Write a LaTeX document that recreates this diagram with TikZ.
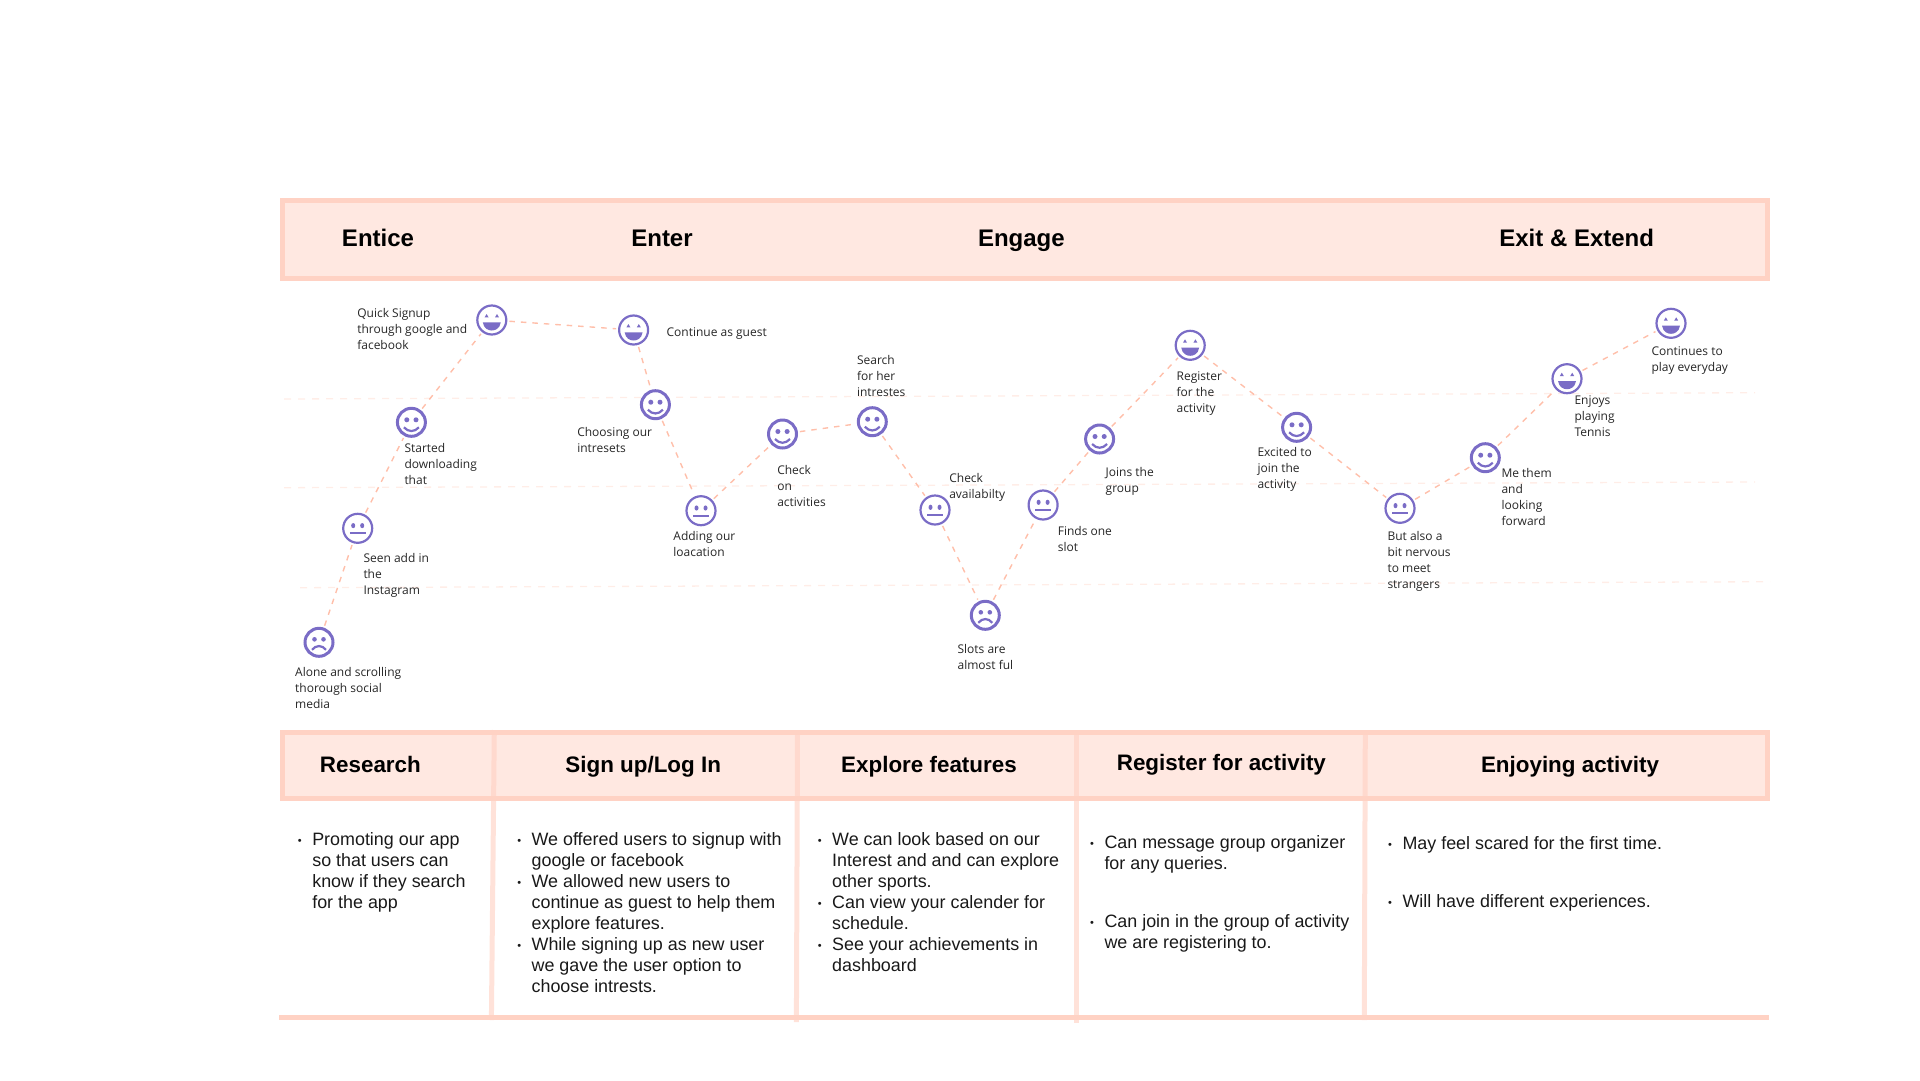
\documentclass[tikz,border=0pt]{standalone}
\usepackage{fontspec}
\setmainfont{Liberation Sans}
\newfontfamily\labfont{Open Sans}
\usetikzlibrary{positioning}
\definecolor{facec}{HTML}{7A6CC6}
\definecolor{bandc}{HTML}{FFD2C4}
\definecolor{bandf}{HTML}{FFE8E1}
\definecolor{guidec}{HTML}{FFEDE7}
\definecolor{linkc}{HTML}{FFBFAA}
\newcommand{\bul}{\llap{\raisebox{1pt}{\fontsize{11}{11}\selectfont •}\hspace{10.5pt}}}
\tikzstyle{face}=[draw=facec, circle, line width=2.2pt, fill=white, minimum size=29pt, inner sep=0pt]
\tikzstyle{happy}=[face, line width=3pt, minimum size=28pt, path picture={
	\begin{scope}[shift={(path picture bounding box.center)}]
	\fill[facec] (-4.6,-2.5) circle (2.5) (4.6,-2.5) circle (2.5);
	\draw[facec, line width=2.2pt] (-7.5,5) .. controls (-3,10) and (3,10) .. (7.5,5);
	\end{scope}}]
\tikzstyle{neutral}=[face, path picture={
	\begin{scope}[shift={(path picture bounding box.center)}]
	\fill[facec] (-4.5,-2.7) ellipse (2 and 2.6) (4.5,-2.7) ellipse (2 and 2.6);
	\draw[facec, line width=1.7pt] (-7.8,5) -- (7.8,5);
	\end{scope}}]
\tikzstyle{sad}=[face, line width=3pt, minimum size=28pt, path picture={
	\begin{scope}[shift={(path picture bounding box.center)}]
	\fill[facec] (-4.5,-3) circle (2.3) (4.5,-3) circle (2.3);
	\draw[facec, line width=2.2pt] (-7,7.5) .. controls (-3,2.5) and (3,2.5) .. (7,7.5);
	\end{scope}}]
\tikzstyle{laugh}=[face, path picture={
	\begin{scope}[shift={(path picture bounding box.center)}]
	\fill[facec] (-7.2,-2.6) -- (-5.2,-6) -- (-3.2,-2.6) -- cycle (3.2,-2.6) -- (5.2,-6) -- (7.2,-2.6) -- cycle;
	\fill[facec] (-9,2.3) -- (9,2.3) .. controls (8,9) and (3,10.5) .. (0,10.5) .. controls (-3,10.5) and (-8,9) .. cycle;
	\end{scope}}]
\tikzstyle{lab}=[anchor=north west, inner sep=0pt, yshift=-1.2pt, align=left, text=black!85, font=\labfont\fontsize{12}{16}\selectfont]
\tikzstyle{band}=[draw=bandc, fill=bandf, line width=5pt, rectangle, inner sep=0pt]
\tikzstyle{headt}=[anchor=base, inner sep=0pt, font=\bfseries\fontsize{24}{30}\selectfont]
\tikzstyle{colt}=[anchor=base, inner sep=0pt, font=\bfseries\fontsize{22.4}{28}\selectfont]
\tikzstyle{body}=[anchor=north west, inner sep=0pt, align=left, text=black!90, font=\fontsize{17.9}{21}\selectfont]
\tikzstyle{guide}=[draw=guidec, line width=1.3pt, dash pattern=on 7pt off 7pt]
\tikzstyle{link}=[draw=linkc, line width=1.4pt, dash pattern=on 5.5pt off 6pt, shorten >=2pt, shorten <=2pt]
\tikzstyle{divider}=[draw=bandc, line width=5pt, draw opacity=0.65]

\begin{document}
\begin{tikzpicture}[x=1pt, y=-1pt]
	\useasboundingbox (0,0) rectangle (1920,1080);

	% guide lines
	\coordinate (g1a) at (284,399);
	\coordinate (g1b) at (1755,392.7);
	\coordinate (g2a) at (284,487.7);
	\coordinate (g2b) at (1755,482);
	\coordinate (g3a) at (300,587.7);
	\coordinate (g3b) at (1770,581.7);
	\draw[guide] (g1a) -- (g1b);
	\draw[guide] (g2a) -- (g2b);
	\draw[guide] (g3a) -- (g3b);

	% top band
	\node[band, minimum width=1485pt, minimum height=78pt] (phases) at (1025,239.5) {};
	\node[headt] (Entice) at (378,246.5) {Entice};
	\node[headt] (Enter) at (662,246.5) {Enter};
	\node[headt] (Engage) at (1021.4,246.5) {Engage};
	\node[headt] (Exit) at (1576.7,246.5) {Exit \& Extend};

	% faces
	\node[sad] (Alone) at (319,642.3) {};
	\node[neutral] (Seen) at (357.7,528.3) {};
	\node[happy] (Started) at (411.4,422.3) {};
	\node[laugh] (Quick) at (491.8,320) {};
	\node[laugh] (Guest) at (633.6,330) {};
	\node[happy] (Choosing) at (655.4,404.7) {};
	\node[neutral] (Adding) at (701,510.7) {};
	\node[happy] (CheckOn) at (782.5,434) {};
	\node[happy] (Search) at (872.3,421.7) {};
	\node[neutral] (Avail) at (935,510) {};
	\node[sad] (Slots) at (985.3,615.3) {};
	\node[neutral] (Finds) at (1043.1,505) {};
	\node[happy] (Joins) at (1099.6,439) {};
	\node[laugh] (Register) at (1190.2,345.3) {};
	\node[happy] (Excited) at (1296.6,427.3) {};
	\node[neutral] (Nervous) at (1400,508.3) {};
	\node[happy] (Forward) at (1485.3,457.7) {};
	\node[laugh] (Tennis) at (1567,378.7) {};
	\node[laugh] (Everyday) at (1671,323.3) {};

	\draw[link] (Alone) -- (Seen);
	\draw[link] (Seen) -- (Started);
	\draw[link] (Started) -- (Quick);
	\draw[link] (Quick) -- (Guest);
	\draw[link] (Guest) -- (Choosing);
	\draw[link] (Choosing) -- (Adding);
	\draw[link] (Adding) -- (CheckOn);
	\draw[link] (CheckOn) -- (Search);
	\draw[link] (Search) -- (Avail);
	\draw[link] (Avail) -- (Slots);
	\draw[link] (Slots) -- (Finds);
	\draw[link] (Finds) -- (Joins);
	\draw[link] (Joins) -- (Register);
	\draw[link] (Register) -- (Excited);
	\draw[link] (Excited) -- (Nervous);
	\draw[link] (Nervous) -- (Forward);
	\draw[link] (Forward) -- (Tennis);
	\draw[link] (Tennis) -- (Everyday);

	% face labels
	\node[lab] (lAlone) at (295,665.7) {Alone and scrolling\\thorough social\\media};
	\node[lab] (lSeen) at (363.3,552.2) {Seen add in\\the\\Instagram};
	\node[lab] (lStarted) at (404.3,442.2) {Started\\downloading\\that};
	\node[lab] (lQuick) at (357.1,307.2) {Quick Signup\\through google and\\facebook};
	\node[lab] (lGuest) at (666.4,326.5) {Continue as guest};
	\node[lab] (lChoosing) at (577.1,426.2) {Choosing our\\intresets};
	\node[lab] (lAdding) at (673.2,530.2) {Adding our\\loacation};
	\node[lab] (lCheckOn) at (777.1,464.2) {Check\\on\\activities};
	\node[lab] (lSearch) at (856.8,354.2) {Search\\for her\\intrestes};
	\node[lab] (lAvail) at (949.1,472.2) {Check\\availabilty};
	\node[lab] (lSlots) at (957.4,643) {Slots are\\almost ful};
	\node[lab] (lFinds) at (1057.6,525.2) {Finds one\\slot};
	\node[lab] (lJoins) at (1105.5,465.7) {Joins the\\group};
	\node[lab] (lRegister) at (1176.4,370.2) {Register\\for the\\activity};
	\node[lab] (lExcited) at (1257.3,446.2) {Excited to\\join the\\activity};
	\node[lab] (lNervous) at (1387.3,530.2) {But also a\\bit nervous\\to meet\\strangers};
	\node[lab] (lForward) at (1501.3,467.2) {Me them\\and\\looking\\forward};
	\node[lab] (lTennis) at (1574.3,394.5) {Enjoys\\playing\\Tennis};
	\node[lab] (lEveryday) at (1651.3,345.5) {Continues to\\play everyday};

	% table
	\node[band, minimum width=1485pt, minimum height=66pt] (stages) at (1025,765.5) {};
	\coordinate (foota) at (279,1017.5);
	\coordinate (footb) at (1769,1017.5);
	\draw[draw=bandc, line width=5pt] (foota) -- (footb);
	\coordinate (d1a) at (494.3,730);
	\coordinate (d1b) at (491.4,1020);
	\coordinate (d2a) at (797.5,733);
	\coordinate (d2b) at (796.4,1022);
	\coordinate (d3a) at (1076.8,733);
	\coordinate (d3b) at (1076.8,1023);
	\coordinate (d4a) at (1365.3,730);
	\coordinate (d4b) at (1364.3,1020);
	\draw[divider] (d1a) -- (d1b);
	\draw[divider] (d2a) -- (d2b);
	\draw[divider] (d3a) -- (d3b);
	\draw[divider] (d4a) -- (d4b);

	\node[colt] (Research) at (370.4,772.7) {Research};
	\node[colt] (Signup) at (643.2,772.7) {Sign up/Log In};
	\node[colt] (Explore) at (929,772.7) {Explore features};
	\node[colt] (Activity) at (1221.4,770.1) {Register for activity};
	\node[colt] (Enjoying) at (1570,772.7) {Enjoying activity};

	\node[body] (bResearch) at (312.1,832.5) {\bul Promoting our app\\so that users can\\know if they search\\for the app};
	\node[body] (bSignup) at (531.4,832.5) {\bul We offered users to signup with\\google or facebook\\\bul We allowed new users to\\continue as guest to help them\\explore features.\\\bul While signing up as new user\\we gave the user option to\\choose intrests.};
	\node[body] (bExplore) at (832,832.5) {\bul We can look based on our\\Interest and and can explore\\other sports.\\\bul Can view your calender for\\schedule.\\\bul See your achievements in\\dashboard};
	\node[body] (bMessage) at (1104.3,835.5) {\bul Can message group organizer\\for any queries.};
	\node[body] (bJoin) at (1104.3,914.5) {\bul Can join in the group of activity\\we are registering to.};
	\node[body] (bScared) at (1402.3,836.5) {\bul May feel scared for the first time.};
	\node[body] (bDiff) at (1402.3,894.5) {\bul Will have different experiences.};
\end{tikzpicture}
\end{document}
